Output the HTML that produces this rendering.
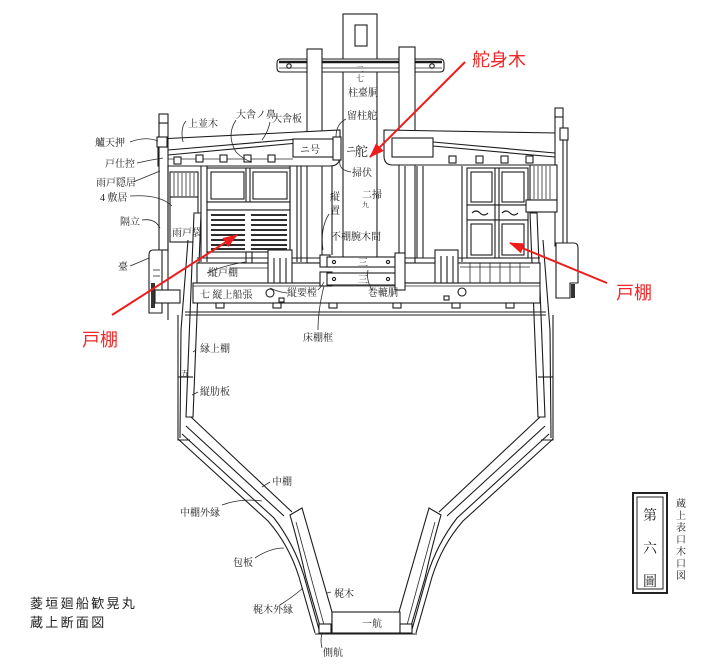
<!DOCTYPE html>
<html><head><meta charset="utf-8"><style>
html,body{margin:0;padding:0;background:#fff;}
svg{display:block}
.l{fill:none;stroke:#1c1c1c;stroke-width:1.1}
.w{fill:#fff;stroke:#1c1c1c;stroke-width:1.1}
.th{fill:none;stroke:#2a2a2a;stroke-width:0.8}
.t{font-family:"Liberation Serif","Noto Serif CJK SC","Noto Sans CJK JP",serif;font-size:10px;fill:#222}
.r{font-family:"Liberation Sans","Noto Sans CJK JP",sans-serif;font-size:18px;fill:#f02828}
.b{font-family:"Liberation Sans","Noto Sans CJK JP",sans-serif;font-size:13px;fill:#222;letter-spacing:2.3px}
</style></head><body>
<svg width="720" height="670" viewBox="0 0 720 670" xmlns="http://www.w3.org/2000/svg">
<defs>
<marker id="a" viewBox="0 0 14 10" refX="13" refY="5" markerWidth="15" markerHeight="11" orient="auto" markerUnits="userSpaceOnUse"><path d="M0,0 L14,5 L0,10 Z" fill="#ee1c1c"/></marker>
</defs>
<rect width="720" height="670" fill="#fff"/>

<!-- rudder post -->
<rect class="w" x="343" y="14" width="34" height="246"/>
<rect class="w" x="355" y="25" width="12" height="21"/>
<!-- cross bar -->
<path class="w" d="M281,59 L440,59 Q444,59 444,63 L444,68 Q444,72 440,72 L281,72 Q277,72 277,68 L277,63 Q277,59 281,59Z"/>
<line x1="279" y1="62" x2="442" y2="62" stroke="#1a1a1a" stroke-width="2.6"/>
<line class="th" x1="279" y1="68" x2="442" y2="68"/>
<circle class="l" cx="289" cy="66" r="2.2"/>
<circle class="l" cx="432" cy="66" r="2.2"/>
<!-- side posts -->
<rect class="w" x="307" y="49" width="15" height="214"/>
<rect class="w" x="399" y="47" width="16" height="216"/>

<!-- left deck beam -->
<path class="w" d="M158,139 L340,130 L340,156 Q340,166 330,166 L158,166 Z"/>
<line class="l" x1="168" y1="150" x2="298" y2="139"/>
<line class="l" x1="168" y1="155" x2="298" y2="143"/>
<line class="th" x1="168" y1="159" x2="293" y2="159"/>
<rect class="w" x="293" y="139" width="42" height="18"/>
<text class="t" x="300" y="153">ニ号</text>
<rect class="w" x="333" y="137" width="8" height="23"/>
<rect class="w" x="196" y="155" width="7" height="7"/>
<rect class="w" x="220" y="155" width="7" height="7"/>
<rect class="w" x="244" y="155" width="7" height="7"/>
<rect class="w" x="268" y="155" width="7" height="7"/>
<rect class="w" x="174" y="157" width="7" height="7"/>

<!-- right deck beam -->
<path class="w" d="M384,130 L557,133 L557,165 L393,165 Q384,165 384,156 Z"/>
<rect class="w" x="392" y="138" width="41" height="19"/>
<line class="l" x1="433" y1="142" x2="555" y2="153"/>
<line class="l" x1="433" y1="146" x2="555" y2="157"/>
<rect class="w" x="449" y="156" width="7" height="7"/>
<rect class="w" x="476" y="156" width="7" height="7"/>
<rect class="w" x="501" y="156" width="7" height="7"/>
<rect class="w" x="526" y="156" width="7" height="7"/>

<!-- right outer post -->
<rect class="w" x="555" y="116" width="8" height="130"/>
<rect class="w" x="555" y="108" width="8" height="9"/>
<rect class="w" x="560" y="128" width="8" height="12"/>
<line class="l" x1="567" y1="140" x2="567" y2="243"/>
<path class="w" d="M556,243 L574,243 Q578,243 578,248 L578,283 L570,283 L570,298 L556,298 Z"/>
<rect x="571" y="284" width="4" height="14" fill="#333"/>

<!-- left outer post -->
<rect class="w" x="159" y="123" width="9" height="127"/>
<rect class="w" x="159" y="114" width="9" height="9"/>
<rect class="w" x="157" y="137" width="10" height="10"/>
<line class="l" x1="168" y1="166" x2="168" y2="320"/>
<path class="w" d="M162,250 L153,250 Q149,250 149,255 L149,313 L162,313 Z"/>
<rect x="151" y="283" width="4" height="25" fill="#333"/>
<rect class="w" x="155" y="290" width="25" height="13"/>
<line class="th" x1="153" y1="270" x2="160" y2="270"/>
<line class="th" x1="153" y1="276" x2="160" y2="276"/>

<!-- left cabin -->
<rect class="w" x="170" y="172" width="28" height="25"/>
<g class="th"><line x1="174" y1="173" x2="174" y2="196"/><line x1="178" y1="173" x2="178" y2="196"/><line x1="182" y1="173" x2="182" y2="196"/><line x1="186" y1="173" x2="186" y2="196"/><line x1="190" y1="173" x2="190" y2="196"/><line x1="194" y1="173" x2="194" y2="196"/></g>
<rect class="w" x="170" y="197" width="28" height="45"/>
<line class="l" x1="201" y1="166" x2="201" y2="262"/>
<line class="l" x1="207" y1="166" x2="207" y2="262"/>
<rect class="w" x="207" y="168" width="83" height="34"/>
<line class="l" x1="246" y1="168" x2="246" y2="252"/>
<line class="l" x1="250" y1="168" x2="250" y2="252"/>
<rect class="l" x="211" y="172" width="33" height="27"/>
<rect class="l" x="253" y="172" width="34" height="27"/>
<rect class="w" x="207" y="202" width="83" height="8"/>
<rect class="w" x="207" y="210" width="83" height="42"/>
<g stroke="#2e2e2e" stroke-width="2"><line x1="211" y1="215" x2="245" y2="215"/><line x1="251" y1="215" x2="287" y2="215"/><line x1="211" y1="220" x2="245" y2="220"/><line x1="251" y1="220" x2="287" y2="220"/><line x1="211" y1="225" x2="245" y2="225"/><line x1="251" y1="225" x2="287" y2="225"/><line x1="211" y1="230" x2="245" y2="230"/><line x1="251" y1="230" x2="287" y2="230"/><line x1="211" y1="235" x2="245" y2="235"/><line x1="251" y1="235" x2="287" y2="235"/><line x1="211" y1="240" x2="245" y2="240"/><line x1="251" y1="240" x2="287" y2="240"/><line x1="211" y1="245" x2="245" y2="245"/><line x1="251" y1="245" x2="287" y2="245"/><line x1="211" y1="249" x2="245" y2="249"/><line x1="251" y1="249" x2="287" y2="249"/></g>
<line class="l" x1="290" y1="166" x2="290" y2="262"/>
<line class="l" x1="297" y1="166" x2="297" y2="262"/>
<line class="l" x1="301" y1="166" x2="301" y2="262"/>
<line class="l" x1="332" y1="166" x2="332" y2="255"/>
<rect class="w" x="246" y="252" width="6" height="12"/>

<!-- center right lines -->
<line class="l" x1="405" y1="166" x2="405" y2="258"/>
<line class="l" x1="417" y1="166" x2="417" y2="258"/>
<line class="l" x1="423" y1="166" x2="423" y2="258"/>
<line class="l" x1="462" y1="166" x2="462" y2="262"/>

<!-- right cabin -->
<rect class="w" x="467" y="168" width="61" height="37"/>
<line class="l" x1="495" y1="168" x2="495" y2="258"/>
<line class="l" x1="499" y1="168" x2="499" y2="258"/>
<rect class="l" x="471" y="172" width="21" height="30"/>
<rect class="l" x="502" y="172" width="22" height="30"/>
<rect class="w" x="467" y="205" width="61" height="15"/>
<path class="l" d="M472,213 q4,-4 8,0 q4,4 8,0 M502,213 q4,-4 8,0 q4,4 8,0"/>
<rect class="w" x="467" y="220" width="61" height="38"/>
<rect class="l" x="471" y="224" width="21" height="31"/>
<rect class="l" x="502" y="224" width="22" height="31"/>
<line class="l" x1="495" y1="205" x2="495" y2="258"/>
<line class="l" x1="499" y1="205" x2="499" y2="258"/>
<rect class="w" x="530" y="165" width="27" height="35"/>
<g class="th"><line x1="534" y1="166" x2="534" y2="199"/><line x1="538" y1="166" x2="538" y2="199"/><line x1="542" y1="166" x2="542" y2="199"/><line x1="546" y1="166" x2="546" y2="199"/><line x1="550" y1="166" x2="550" y2="199"/></g>
<rect class="w" x="526" y="200" width="31" height="12"/>

<!-- side frames (left + mirrored right) -->
<g id="side">
<path class="w" d="M194,213 L201,213 L193,417 L186,417 Z"/>
<path class="l" d="M188,240 L181,330 L180,438"/>
<path class="l" d="M178,315 L178,440 L190,440"/>
<line class="l" x1="178" y1="377" x2="193" y2="377"/>
<path class="l" d="M191,417 L292,512"/>
<path class="l" d="M186,426 L284,516"/>
<path class="l" d="M182,434 L274,518 Q294,544 304,576 L320,633"/>
<path class="l" d="M178,439 L268,521 Q289,545 299,577 L315,633"/>
<path class="w" d="M290,515 L302,508 L332,612 L332,633 L322,633 L306,578 Q299,546 290,515 Z"/>
<line class="th" x1="296" y1="522" x2="324" y2="625"/>
</g>
<use href="#side" transform="matrix(-1,0,0,1,731,0)"/>

<!-- keel -->
<line class="l" x1="315" y1="634" x2="417" y2="634"/>
<rect class="w" x="332" y="612" width="68" height="21"/>
<rect class="w" x="319" y="624" width="12" height="9"/>
<rect class="w" x="400" y="624" width="12" height="9"/>

<!-- machinery band -->
<line class="l" x1="197" y1="258" x2="540" y2="258"/>
<rect class="w" x="197" y="263" width="343" height="20"/>
<line class="th" x1="230" y1="268" x2="268" y2="268"/>
<g class="th"><line x1="470" y1="263" x2="470" y2="283"/><line x1="480" y1="263" x2="480" y2="283"/><line x1="490" y1="263" x2="490" y2="283"/><line x1="500" y1="263" x2="500" y2="283"/><line x1="510" y1="263" x2="510" y2="283"/><line x1="520" y1="263" x2="520" y2="283"/><line x1="460" y1="267" x2="530" y2="267"/></g>
<rect class="w" x="193" y="283" width="347" height="20"/>
<line class="th" x1="193" y1="286" x2="540" y2="286"/>
<g class="w"><rect x="216" y="303" width="8" height="5"/><rect x="273" y="303" width="8" height="5"/><rect x="329" y="303" width="8" height="5"/><rect x="393" y="303" width="8" height="5"/><rect x="452" y="303" width="8" height="5"/><rect x="506" y="303" width="8" height="5"/></g>
<line class="l" x1="185" y1="312" x2="546" y2="312"/>
<line class="l" x1="185" y1="315" x2="546" y2="315"/>
<circle class="w" cx="270" cy="293" r="4"/>
<circle class="w" cx="462" cy="292" r="4"/>
<rect class="w" x="279" y="298" width="5" height="4"/>
<rect class="w" x="444" y="296" width="5" height="4"/>
<!-- windlass -->
<rect class="w" x="268" y="250" width="24" height="33"/>
<line class="l" x1="274" y1="258" x2="274" y2="283"/>
<line class="l" x1="280" y1="258" x2="280" y2="283"/>
<line class="l" x1="286" y1="258" x2="286" y2="283"/>
<rect class="w" x="435" y="250" width="23" height="33"/>
<line class="l" x1="441" y1="256" x2="441" y2="283"/>
<line class="l" x1="447" y1="256" x2="447" y2="283"/>
<line class="l" x1="453" y1="256" x2="453" y2="283"/>
<rect class="w" x="320" y="255" width="10" height="12"/>
<rect class="w" x="320" y="272" width="12" height="14"/>
<rect class="w" x="327" y="257" width="70" height="10"/>
<rect class="w" x="327" y="273" width="70" height="12"/>
<circle class="l" cx="334" cy="262" r="1.6"/><circle class="l" cx="388" cy="262" r="1.6"/>
<circle class="l" cx="334" cy="279" r="1.6"/><circle class="l" cx="388" cy="279" r="1.6"/>
<text class="t" x="358" y="266" font-size="8">三</text>
<text class="t" x="358" y="283" font-size="8">三</text>
<rect class="w" x="395" y="253" width="10" height="37"/>

<!-- labels -->
<g class="t">
<text x="188" y="127">上並木</text>
<text x="236" y="118">大舎ノ鼻</text>
<text x="272" y="122">大舎板</text>
<text x="95" y="146">艫天押</text>
<text x="105" y="167">戸仕控</text>
<text x="96" y="186">雨戸隠居</text>
<text x="100" y="201">4 敷居</text>
<text x="120" y="225">隔立</text>
<text x="118" y="270">臺</text>
<text x="172" y="236">雨戸袋</text>
<text x="208" y="276">縦戸棚</text>
<text x="200" y="298">七 縦上船張</text>
<text x="287" y="296">縦要樘</text>
<text x="368" y="296">巻轆胴</text>
<text x="303" y="341">床棚框</text>
<text x="331" y="240">不棚腕木間</text>
<text x="330" y="200">縦</text>
<text x="330" y="214">置</text>
<text x="356" y="72" font-size="8">二</text>
<text x="356" y="81" font-size="8">七</text>
<text x="348" y="96">柱臺胴</text>
<text x="347" y="119">留柱舵</text>
<text x="346" y="153">ニ</text>
<text x="355" y="156" font-size="13">舵</text>
<text x="352" y="176">掃伏</text>
<text x="362" y="198">二掃</text>
<text x="362" y="207" font-size="7">九</text>
<text x="296" y="154" font-size="7"> </text>
<text x="200" y="352">縁上棚</text>
<text x="200" y="395">縦肋板</text>
<text x="181" y="376" font-size="8">五</text>
<text x="272" y="485">中棚</text>
<text x="180" y="516">中棚外縁</text>
<text x="233" y="566">包板</text>
<text x="253" y="613">梶木外縁</text>
<text x="334" y="597">梶木</text>
<text x="362" y="627">一航</text>
<text x="323" y="656">側航</text>
</g>
<!-- leader lines -->
<g class="th">
<path d="M130,142 Q145,136 158,141"/>
<path d="M137,163 Q150,160 163,158"/>
<path d="M133,182 Q148,176 160,171"/>
<path d="M130,196 Q160,194 172,206"/>
<path d="M142,220 Q155,218 160,228"/>
<path d="M130,266 Q140,262 149,258"/>
<path d="M186,121 Q180,128 183,142"/>
<path d="M236,120 Q226,135 236,152 Q244,160 252,162"/>
<path d="M270,122 Q268,132 262,140"/>
<path d="M346,119 Q336,124 336,137"/>
<path d="M351,172 Q338,170 340,160"/>
<path d="M329,214 Q320,228 323,250"/>
<path d="M207,273 Q222,266 245,262"/>
<path d="M287,293 Q278,292 270,288"/>
<path d="M318,290 Q322,286 324,282"/>
<path d="M318,330 Q318,310 324,286"/>
<path d="M372,290 Q366,280 368,270"/>
<path d="M196,350 L193,352"/>
<path d="M198,392 L192,395"/>
<path d="M270,482 L262,487"/>
<path d="M222,505 Q240,498 262,501"/>
<path d="M255,558 Q270,548 284,548"/>
<path d="M280,605 Q294,596 303,588"/>
<path d="M331,592 L327,593"/>
<path d="M322,648 Q320,640 322,634"/>
</g>

<!-- title box -->
<rect x="633" y="493" width="34" height="100" fill="none" stroke="#222" stroke-width="2"/>
<rect x="637" y="497" width="26" height="92" fill="none" stroke="#222" stroke-width="1"/>
<g font-family="'Liberation Serif','Noto Serif CJK SC',serif" font-size="14" fill="#222">
<text x="643" y="520">第</text>
<text x="643" y="553">六</text>
<text x="643" y="586">圖</text>
</g>
<g class="t" font-size="11">
<text x="676" y="507">蔵</text>
<text x="676" y="519">上</text>
<text x="676" y="531">表</text>
<text x="676" y="543">口</text>
<text x="676" y="555">木</text>
<text x="676" y="567">口</text>
<text x="676" y="579">図</text>
</g>

<!-- bottom-left title -->
<text class="b" x="30" y="608">菱垣廻船歓晃丸</text>
<text class="b" x="30" y="627">蔵上断面図</text>

<!-- red annotations -->
<line x1="465" y1="62" x2="370" y2="157" stroke="#ee1c1c" stroke-width="2" marker-end="url(#a)"/>
<line x1="112" y1="315" x2="237" y2="235" stroke="#ee1c1c" stroke-width="2" marker-end="url(#a)"/>
<line x1="607" y1="283" x2="510" y2="243" stroke="#ee1c1c" stroke-width="2" marker-end="url(#a)"/>
<text class="r" x="472" y="66">舵身木</text>
<text class="r" x="82" y="346">戸棚</text>
<text class="r" x="616" y="299">戸棚</text>
</svg>
</body></html>
